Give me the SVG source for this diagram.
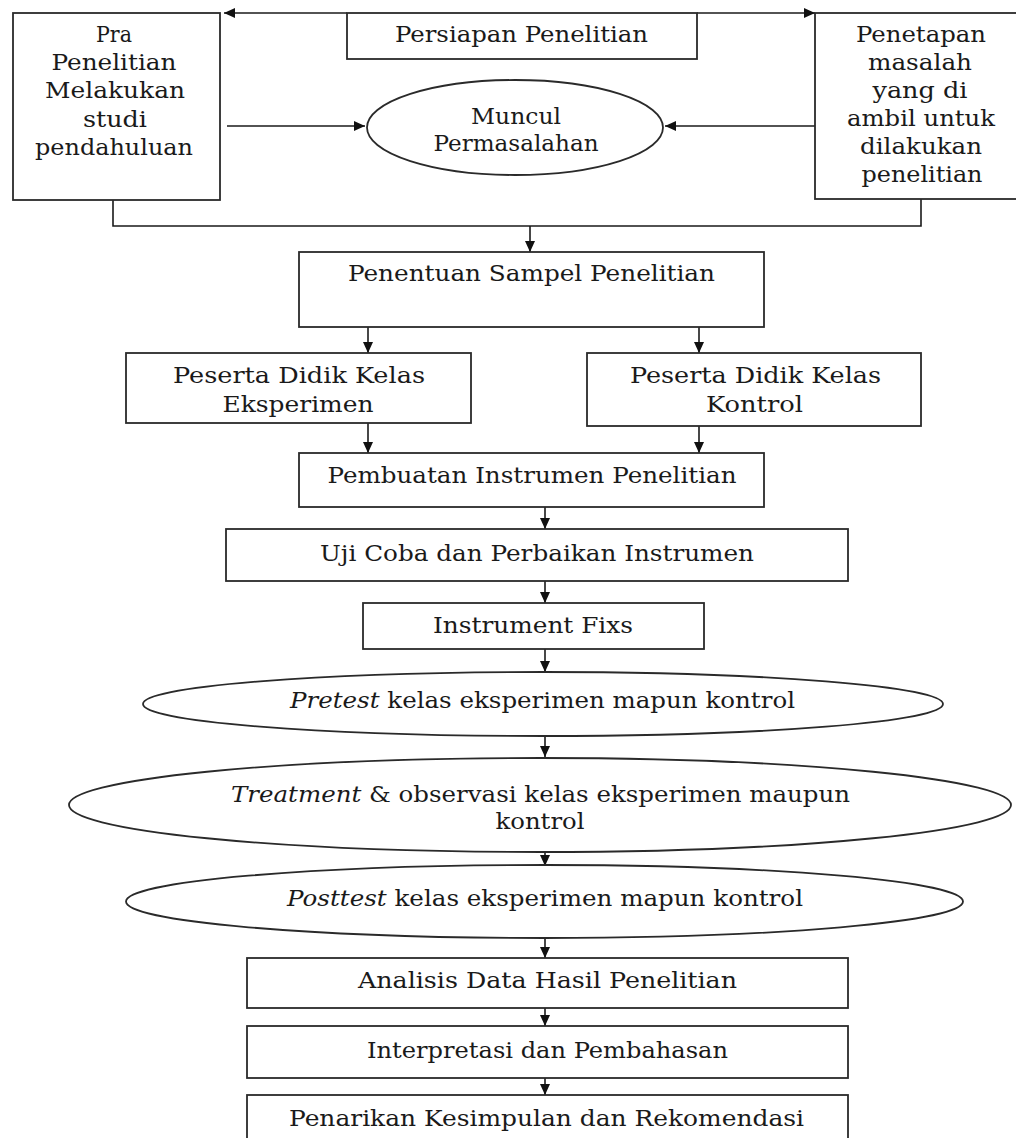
<svg xmlns="http://www.w3.org/2000/svg" width="1016" height="1138" viewBox="0 0 1016 1138">
<style>
  .box { fill: #fff; stroke: #2a2a2a; stroke-width: 1.8; }
  .con { fill: none; stroke: #1a1a1a; stroke-width: 1.6; }
  text { font-family: "DejaVu Serif", "Liberation Serif", serif; font-size: 23px; fill: #1a1a1a; text-anchor: middle; }
  .it { font-style: italic; }
</style>
<defs>
  <marker id="ah" viewBox="0 0 11 11" refX="11" refY="5.5" markerWidth="11" markerHeight="11" markerUnits="userSpaceOnUse" orient="auto">
    <path d="M0,0.5 L11,5.5 L0,10.5 Z" fill="#111"/>
  </marker>
</defs>
<rect width="1016" height="1138" fill="#fff"/>

<g id="connectors">
  <line class="con" x1="347" y1="13" x2="224" y2="13" marker-end="url(#ah)"/>
  <line class="con" x1="697" y1="13" x2="815" y2="13" marker-end="url(#ah)"/>
  <line class="con" x1="227" y1="126" x2="365" y2="126" marker-end="url(#ah)"/>
  <line class="con" x1="815" y1="126" x2="665" y2="126" marker-end="url(#ah)"/>
  <polyline class="con" points="113,200 113,226 921,226 921,199"/>
  <line class="con" x1="530" y1="226" x2="530" y2="252" marker-end="url(#ah)"/>
  <line class="con" x1="368" y1="327" x2="368" y2="353" marker-end="url(#ah)"/>
  <line class="con" x1="699" y1="327" x2="699" y2="353" marker-end="url(#ah)"/>
  <line class="con" x1="368" y1="423" x2="368" y2="453" marker-end="url(#ah)"/>
  <line class="con" x1="699" y1="423" x2="699" y2="453" marker-end="url(#ah)"/>
  <line class="con" x1="545" y1="507" x2="545" y2="529" marker-end="url(#ah)"/>
  <line class="con" x1="545" y1="581" x2="545" y2="603" marker-end="url(#ah)"/>
  <line class="con" x1="545" y1="649" x2="545" y2="672" marker-end="url(#ah)"/>
  <line class="con" x1="545" y1="736" x2="545" y2="757" marker-end="url(#ah)"/>
  <line class="con" x1="545" y1="850" x2="545" y2="866" marker-end="url(#ah)"/>
  <line class="con" x1="545" y1="938" x2="545" y2="958" marker-end="url(#ah)"/>
  <line class="con" x1="545" y1="1008" x2="545" y2="1026" marker-end="url(#ah)"/>
  <line class="con" x1="545" y1="1078" x2="545" y2="1095" marker-end="url(#ah)"/>
</g>

<g id="pra">
  <rect class="box" x="13" y="13" width="207" height="187"/>
  <text x="114" y="42" textLength="36" lengthAdjust="spacingAndGlyphs">Pra</text>
  <text x="114" y="70" textLength="125" lengthAdjust="spacingAndGlyphs">Penelitian</text>
  <text x="115" y="98" textLength="140" lengthAdjust="spacingAndGlyphs">Melakukan</text>
  <text x="115" y="127" textLength="64" lengthAdjust="spacingAndGlyphs">studi</text>
  <text x="114" y="155" textLength="158" lengthAdjust="spacingAndGlyphs">pendahuluan</text>
</g>

<g id="persiapan">
  <rect class="box" x="347" y="13" width="350" height="46"/>
  <text x="521.5" y="42" textLength="253" lengthAdjust="spacingAndGlyphs">Persiapan Penelitian</text>
</g>

<g id="penetapan">
  <rect class="box" x="815" y="13" width="202" height="186"/>
  <text x="921" y="42" textLength="130" lengthAdjust="spacingAndGlyphs">Penetapan</text>
  <text x="920" y="70" textLength="104" lengthAdjust="spacingAndGlyphs">masalah</text>
  <text x="920" y="98" textLength="95" lengthAdjust="spacingAndGlyphs">yang di</text>
  <text x="921" y="126" textLength="148" lengthAdjust="spacingAndGlyphs">ambil untuk</text>
  <text x="921" y="154" textLength="122" lengthAdjust="spacingAndGlyphs">dilakukan</text>
  <text x="922" y="182" textLength="121" lengthAdjust="spacingAndGlyphs">penelitian</text>
</g>

<g id="muncul">
  <ellipse class="box" cx="515" cy="127.5" rx="148" ry="47.5"/>
  <text x="516" y="124" textLength="90" lengthAdjust="spacingAndGlyphs">Muncul</text>
  <text x="516" y="151" textLength="165" lengthAdjust="spacingAndGlyphs">Permasalahan</text>
</g>

<g id="penentuan">
  <rect class="box" x="299" y="252" width="465" height="75"/>
  <text x="531.5" y="281" textLength="367" lengthAdjust="spacingAndGlyphs">Penentuan Sampel Penelitian</text>
</g>

<g id="eksperimen">
  <rect class="box" x="126" y="353" width="345" height="70"/>
  <text x="299" y="383" textLength="252" lengthAdjust="spacingAndGlyphs">Peserta Didik Kelas</text>
  <text x="298" y="412" textLength="151" lengthAdjust="spacingAndGlyphs">Eksperimen</text>
</g>

<g id="kontrol">
  <rect class="box" x="587" y="353" width="334" height="73"/>
  <text x="755.5" y="383" textLength="251" lengthAdjust="spacingAndGlyphs">Peserta Didik Kelas</text>
  <text x="754.5" y="412" textLength="97" lengthAdjust="spacingAndGlyphs">Kontrol</text>
</g>

<g id="pembuatan">
  <rect class="box" x="299" y="453" width="465" height="54"/>
  <text x="532" y="483" textLength="409" lengthAdjust="spacingAndGlyphs">Pembuatan Instrumen Penelitian</text>
</g>

<g id="ujicoba">
  <rect class="box" x="226" y="529" width="622" height="52"/>
  <text x="537" y="561" textLength="434" lengthAdjust="spacingAndGlyphs">Uji Coba dan Perbaikan Instrumen</text>
</g>

<g id="fixs">
  <rect class="box" x="363" y="603" width="341" height="46"/>
  <text x="533" y="633" textLength="200" lengthAdjust="spacingAndGlyphs">Instrument Fixs</text>
</g>

<g id="pretest">
  <ellipse class="box" cx="543" cy="704" rx="400" ry="32"/>
  <text x="542.5" y="708" textLength="505" lengthAdjust="spacingAndGlyphs"><tspan class="it">Pretest</tspan> kelas eksperimen mapun kontrol</text>
</g>

<g id="treatment">
  <ellipse class="box" cx="540" cy="805" rx="471" ry="47"/>
  <text x="540.5" y="802" textLength="619" lengthAdjust="spacingAndGlyphs"><tspan class="it">Treatment</tspan> &amp; observasi kelas eksperimen maupun</text>
  <text x="540" y="829" textLength="89" lengthAdjust="spacingAndGlyphs">kontrol</text>
</g>

<g id="posttest">
  <ellipse class="box" cx="544.5" cy="901.5" rx="418.5" ry="36.5"/>
  <text x="545" y="906" textLength="516" lengthAdjust="spacingAndGlyphs"><tspan class="it">Posttest</tspan> kelas eksperimen mapun kontrol</text>
</g>

<g id="analisis">
  <rect class="box" x="247" y="958" width="601" height="50"/>
  <text x="547.5" y="988" textLength="379" lengthAdjust="spacingAndGlyphs">Analisis Data Hasil Penelitian</text>
</g>

<g id="interpretasi">
  <rect class="box" x="247" y="1026" width="601" height="52"/>
  <text x="547.5" y="1058" textLength="361" lengthAdjust="spacingAndGlyphs">Interpretasi dan Pembahasan</text>
</g>

<g id="penarikan">
  <rect class="box" x="247" y="1095" width="601" height="60"/>
  <text x="546.5" y="1126" textLength="515" lengthAdjust="spacingAndGlyphs">Penarikan Kesimpulan dan Rekomendasi</text>
</g>
</svg>
